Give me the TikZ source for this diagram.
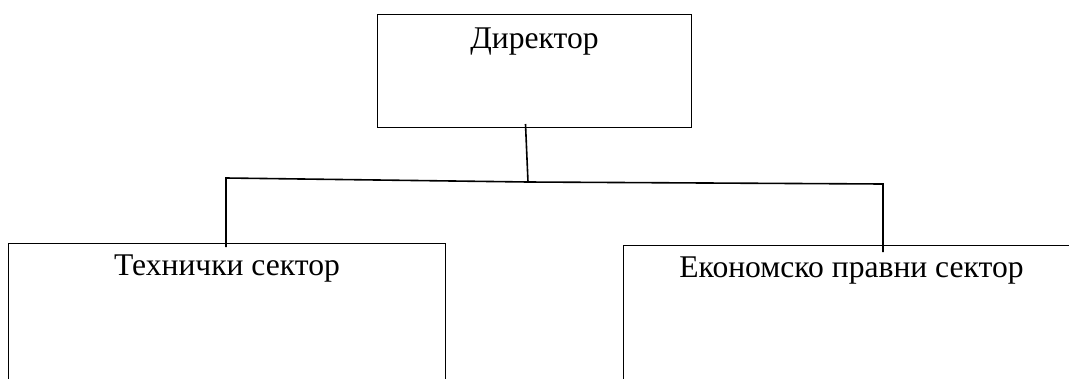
\documentclass[tikz,border=0pt]{standalone}
\usepackage{fontspec}
\setmainfont{Liberation Serif}

\begin{document}
\begin{tikzpicture}[x=1pt,y=-1pt,
  box/.style={draw, line width=1pt, anchor=north west, inner xsep=0pt, inner ysep=6pt,
    font=\fontsize{31.6}{36}\selectfont},
  link/.style={line width=1.6pt}]
\useasboundingbox (0,0) rectangle (1069,378);
\clip (0,0) rectangle (1069,378);
% boxes
\node[box, minimum width=314pt, text height=28pt, text depth=73pt] (dir) at (377,14) {Директор};
\node[box, minimum width=437pt, text height=26pt, text depth=130pt] (teh) at (8,243) {Технички сектор};
\node[box, minimum width=456pt, text height=26pt, text depth=130pt] (eko) at (623,245) {Економско правни сектор};
% connectors
\coordinate (j) at (528,182);
\coordinate (l) at (226,178);
\coordinate (r) at (883,184);
\draw[link] ([xshift=-9pt,yshift=4pt]dir.south) -- (j);
\draw[link] (teh.north -| l) ++(0,4) -- (l) -- (j) -- (r) -- ++(0,68);
\end{tikzpicture}
\end{document}
